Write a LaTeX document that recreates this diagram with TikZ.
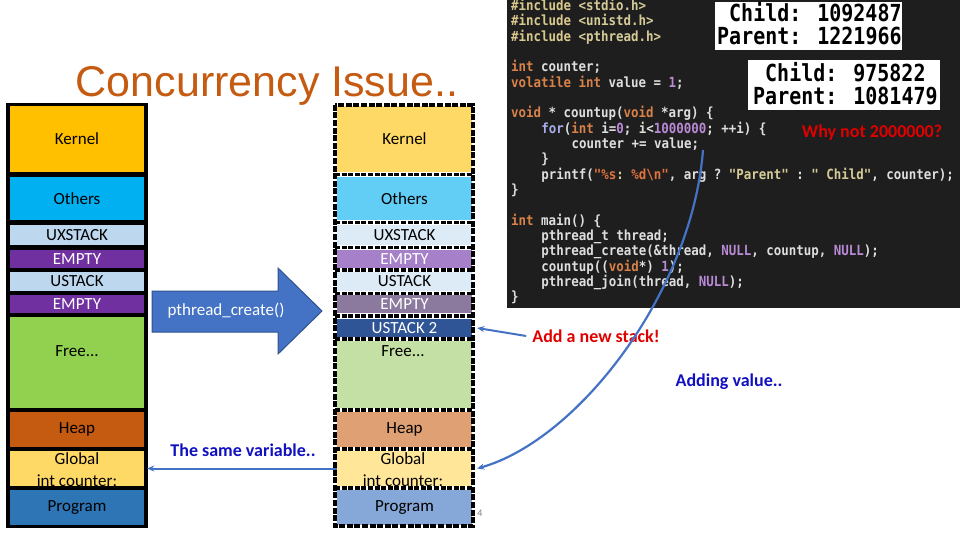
\documentclass[tikz,border=0pt]{standalone}
\usepackage{fontspec}
\setmainfont{Carlito}
\setmonofont[FakeStretch=0.89]{DejaVu Sans Mono}
\newfontfamily\titlefont{Liberation Sans}
\newfontfamily\outfont[FakeStretch=0.85]{DejaVu Sans Mono}
\usetikzlibrary{arrows.meta}
\definecolor{kernelL}{HTML}{FFC000}
\definecolor{othersL}{HTML}{00B0F0}
\definecolor{stackL}{HTML}{BDD7EE}
\definecolor{emptyL}{HTML}{7030A0}
\definecolor{freeL}{HTML}{92D050}
\definecolor{heapL}{HTML}{C55A11}
\definecolor{globalL}{HTML}{FFD966}
\definecolor{progL}{HTML}{2E75B6}
\definecolor{kernelR}{HTML}{FFD966}
\definecolor{othersR}{HTML}{62CDF5}
\definecolor{stackR}{HTML}{DDEBF7}
\definecolor{emptyR}{HTML}{A680C8}
\definecolor{emptyRb}{HTML}{8C7A9E}
\definecolor{ustackTwo}{HTML}{2F5597}
\definecolor{freeR}{HTML}{C5E0A4}
\definecolor{heapR}{HTML}{DFA074}
\definecolor{globalR}{HTML}{FFE699}
\definecolor{progR}{HTML}{86A8D8}
\definecolor{titlec}{HTML}{C55A11}
\definecolor{arrowblue}{HTML}{4472C4}
\definecolor{arrowedge}{HTML}{2F528F}
\definecolor{notered}{HTML}{E00000}
\definecolor{noteblue}{HTML}{1010C0}
\definecolor{codebg}{HTML}{1E1E1E}
\definecolor{ctext}{HTML}{DEDEDE}
\definecolor{ckw}{HTML}{D8824A}
\definecolor{cfor}{HTML}{A8AEE8}
\definecolor{cnum}{HTML}{B98AD6}
\definecolor{cinc}{HTML}{D9C88E}
\definecolor{cstrc}{HTML}{D6CB98}
\definecolor{cfmt}{HTML}{E0733E}
\newcommand\cKw[1]{\textcolor{ckw}{#1}}
\newcommand\cFor[1]{\textcolor{cfor}{#1}}
\newcommand\cNum[1]{\textcolor{cnum}{#1}}
\newcommand\cInc[1]{\textcolor{cinc}{#1}}
\newcommand\cStr[1]{\textcolor{cstrc}{#1}}
\newcommand\cFmt[1]{\textcolor{cfmt}{#1}}
\newcommand\lblfont{\fontsize{17}{21}\selectfont}
\tikzset{
  lbox/.style={minimum width=134pt, inner sep=0pt, font=\lblfont, text=black, align=center},
  rbox/.style={minimum width=135pt, inner sep=0pt, font=\lblfont, text=black, align=center},
  divider/.style={line width=3.2pt, dash pattern=on 5pt off 1.6pt},
  codeline/.style={anchor=base west, inner sep=0pt, font=\fontsize{14}{16}\ttfamily\bfseries, text=ctext},
  outline/.style={anchor=base west, inner sep=0pt, font=\fontsize{23.5}{26}\outfont\bfseries, text=black},
  note/.style={inner sep=0pt, font=\fontsize{18}{21}\selectfont\bfseries},
  conn/.style={draw=arrowblue, line width=2pt, -{Stealth[length=7pt,width=6pt]}},
}
\begin{document}
\begin{tikzpicture}[x=1pt,y=-1pt]
\useasboundingbox (0,0) rectangle (960,540);
% title
\node[anchor=base, inner sep=0pt, font=\fontsize{43}{48}\titlefont, text=titlec] (title) at (267,97) {Concurrency Issue..};

% left column
\fill[black] (6,103) rectangle (148,528);
\node[lbox, fill=kernelL, minimum height=66pt] (lK) at (77,139) {Kernel};
\node[lbox, fill=othersL, minimum height=43pt] (lO) at (77,198.5) {Others};
\node[lbox, fill=stackL, minimum height=20pt] (lUX) at (77,235) {UXSTACK};
\node[lbox, fill=emptyL, text=white, minimum height=18pt] (lE1) at (77,259) {EMPTY};
\node[lbox, fill=stackL, minimum height=19pt] (lU) at (77,281.5) {USTACK};
\node[lbox, fill=emptyL, text=white, minimum height=18pt] (lE2) at (77,304) {EMPTY};
\node[lbox, fill=freeL, minimum height=91pt] (lF) at (77,362.5) {};
\node[inner sep=0pt, font=\lblfont] (lFt) at (77,351) {Free...};
\node[lbox, fill=heapL, minimum height=35pt] (lH) at (77,429.5) {Heap};
\node[lbox, fill=globalL, minimum height=35pt] (lG) at (77,468.5) {};
\node[inner sep=0pt, font=\lblfont, align=center] (lGt) at (77,470) {Global\\[1pt]int counter:};
\node[lbox, fill=progL, minimum height=35pt] (lP) at (77,507.5) {Program};

% right column
\fill[white] (333,103) rectangle (475,528);
\node[rbox, fill=kernelR, minimum height=66pt] (rK) at (404.5,139) {Kernel};
\node[rbox, fill=othersR, minimum height=43pt] (rO) at (404.5,198.5) {Others};
\node[rbox, fill=stackR, minimum height=20pt] (rUX) at (404.5,235) {UXSTACK};
\node[rbox, fill=emptyR, text=white, minimum height=18pt] (rE1) at (404.5,259) {EMPTY};
\node[rbox, fill=stackR, minimum height=19pt] (rU) at (404.5,281.5) {USTACK};
\node[rbox, fill=emptyRb, text=white, minimum height=18pt] (rE2) at (404.5,304) {EMPTY};
\node[rbox, fill=ustackTwo, text=white, minimum height=18pt] (rU2) at (404.5,328) {USTACK 2};
\node[rbox, fill=freeR, minimum height=67pt] (rF) at (404.5,374.5) {};
\node[inner sep=0pt, font=\lblfont] (rFt) at (403,351) {Free...};
\node[rbox, fill=heapR, minimum height=35pt] (rH) at (404.5,429.5) {Heap};
\node[rbox, fill=globalR, minimum height=35pt] (rG) at (404.5,468.5) {};
\node[inner sep=0pt, font=\lblfont, align=center] (rGt) at (403,470) {Global\\[1pt]int counter:};
\node[rbox, fill=progR, minimum height=35pt] (rP) at (404.5,507.5) {Program};
\foreach \yy in {174.5,222.5,247.5,270,293.5,316,339,410,449,488}
  \draw[divider] (335,\yy) -- (473,\yy);
\draw[line width=3.5pt, dash pattern=on 6pt off 1.6pt] (335,104.8) rectangle (473,526.2);

% block arrow
\draw[fill=arrowblue, draw=arrowedge, line width=1pt] (152,291) -- (278,291) -- (278,268) -- (322,311) -- (278,354) -- (278,332) -- (152,332) -- cycle;
\node[inner sep=0pt, font=\lblfont, text=white] (pc) at (226,311) {pthread\_create()};

% code
\fill[codebg] (507,0) rectangle (960,308);
\node[codeline] (c0) at (511,10.5) {\cInc{\#include} \cStr{<stdio.h>}};
\node[codeline] (c1) at (511,25.8) {\cInc{\#include} \cStr{<unistd.h>}};
\node[codeline] (c2) at (511,41.2) {\cInc{\#include} \cStr{<pthread.h>}};
\node[codeline] (c4) at (511,71.8) {\cKw{int} counter;};
\node[codeline] (c5) at (511,87.2) {\cKw{volatile int} value = \cNum{1};};
\node[codeline] (c7) at (511,117.8) {\cKw{void} * countup(\cKw{void} *arg) \{};
\node[codeline] (c8) at (541.2,133.1) {\cFor{for}(\cKw{int} i=\cNum{0}; i<\cNum{1000000}; ++i) \{};
\node[codeline] (c9) at (571.4,148.5) {counter += value;};
\node[codeline] (c10) at (541.2,163.8) {\}};
\node[codeline] (c11) at (541.2,179.1) {printf(\cFmt{"\%s}\cStr{: }\cFmt{\%d\textbackslash n"}, arg ? \cStr{"Parent"} : \cStr{" Child"}, counter);};
\node[codeline] (c12) at (511,194.5) {\}};
\node[codeline] (c14) at (511,225.1) {\cKw{int} main() \{};
\node[codeline] (c15) at (541.2,240.5) {pthread\_t thread;};
\node[codeline] (c16) at (541.2,255.8) {pthread\_create(\&thread, \cNum{NULL}, countup, \cNum{NULL});};
\node[codeline] (c17) at (541.2,271.1) {countup((\cKw{void}*) \cNum{1});};
\node[codeline] (c18) at (541.2,286.5) {pthread\_join(thread, \cNum{NULL});};
\node[codeline] (c19) at (511,301.8) {\}};

% output boxes
\fill[white] (715,2) rectangle (902,50);
\node[outline] (o1) at (729,22) {Child: 1092487};
\node[outline] (o2) at (717,45) {Parent: 1221966};
\fill[white] (748,60) rectangle (940,110);
\node[outline] (o3) at (765,82) {Child: 975822};
\node[outline] (o4) at (753,105) {Parent: 1081479};

% notes
\node[note, text=notered] (why) at (872,133) {Why not 2000000?};
\node[note, text=notered] (addst) at (596,336) {Add a new stack!};
\node[note, text=noteblue] (addv) at (729,382) {Adding value..};
\node[note, text=noteblue] (same) at (243,450) {The same variable..};
\node[inner sep=0pt, font=\fontsize{10}{12}\selectfont, text=gray] (pg) at (480,513) {4};

% connectors
\coordinate (cStart) at (703,150);
\draw[conn] ([xshift=-6pt]addst.west) -- ([xshift=5pt]rU2.east);
\draw[conn] (rG.west) -- ([xshift=3pt]lG.east);
\draw[conn, line width=2.2pt] (cStart) .. controls (692,292) and (578,440) .. ([xshift=5pt]rG.east);
\end{tikzpicture}
\end{document}
